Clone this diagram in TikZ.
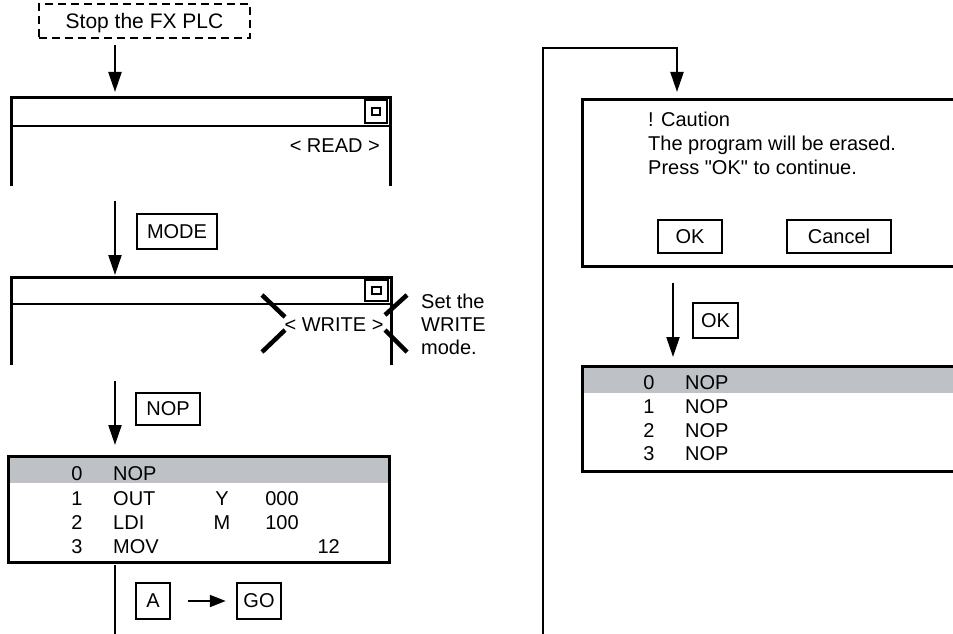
\documentclass[tikz,border=0pt]{standalone}
\usepackage{fontspec}
\setmainfont{Liberation Sans}[Ligatures=TeXOff]
\usetikzlibrary{arrows.meta}
\definecolor{band}{RGB}{190,194,199}
\begin{document}
\begin{tikzpicture}[x=1pt,y=-1pt,
  every node/.style={font=\fontsize{20}{23}\selectfont, inner sep=0pt},
  arr/.style={line width=2.2pt, -{Triangle[length=20pt,width=13pt]}},
  smallarr/.style={line width=2pt, -{Triangle[length=16pt,width=12pt]}},
  plain/.style={line width=2.2pt},
  frame/.style={line width=3pt},
  bar/.style={line width=2.5pt},
  keybox/.style={draw, line width=2.5pt, minimum height=35pt, text depth=0pt},
  dashbox/.style={draw, line width=2pt, dash pattern=on 8pt off 5pt, minimum width=211pt, minimum height=34pt, text depth=0pt, font=\fontsize{21}{24}\selectfont},
  txt/.style={anchor=base west},
  num/.style={anchor=base},
  cross/.style={line width=4.5pt},
  icono/.style={line width=2.5pt},
  iconi/.style={line width=2pt}
]
\useasboundingbox (0,0) rectangle (953,634);

% ---------- left column ----------
\node[dashbox] (stop) at (144.5,21) {Stop the FX PLC};
\coordinate (a1s) at (115,45);
\coordinate (a1e) at (115,92);
\draw[arr] (a1s) -- (a1e);

% screen 1
\draw[frame] (11,186) -- (11,97) -- (390,97) -- (390,186);
\draw[bar] (11,126) -- (390,126);
\draw[icono] (365,100) rectangle (387,123);
\draw[iconi] (372,108) rectangle (380,115);
\node[anchor=base east] (read) at (380,152) {< READ >};

% MODE
\coordinate (a2s) at (115,201);
\coordinate (a2e) at (115,275);
\draw[arr] (a2s) -- (a2e);
\node[keybox, minimum width=80pt] (mode) at (177,231.5) {MODE};

% screen 2
\draw[frame] (11,365) -- (11,277) -- (391,277) -- (391,365);
\draw[bar] (11,304) -- (391,304);
\draw[icono] (365,280) rectangle (388,301);
\draw[iconi] (372,287) rectangle (381,294);
\node[anchor=base] (write) at (334,331) {< WRITE >};
\draw[cross] (262,295) -- (285,317);
\draw[cross] (262,352) -- (285,330);
\draw[cross] (385,315) -- (407,295);
\draw[cross] (385,330) -- (407,352);
\node[txt] (set1) at (421,308) {Set the};
\node[txt] (set2) at (421,331) {WRITE};
\node[txt] (set3) at (421,354) {mode.};

% NOP
\coordinate (a3s) at (115,381);
\coordinate (a3e) at (115,445);
\draw[arr] (a3s) -- (a3e);
\node[keybox, minimum width=64pt, minimum height=32pt] (nop) at (168,409) {NOP};

% screen 3
\fill[band] (8,456) rectangle (389,483);
\draw[frame] (8,456) rectangle (389,562);
\node[num] (l0) at (77,480) {0};
\node[txt] (l0o) at (113,480) {NOP};
\node[num] (l1) at (77,505) {1};
\node[txt] (l1o) at (113,505) {OUT};
\node[num] (l1d) at (222,505) {Y};
\node[num] (l1v) at (282,505) {000};
\node[num] (l2) at (77,529) {2};
\node[txt] (l2o) at (113,529) {LDI};
\node[num] (l2d) at (222,529) {M};
\node[num] (l2v) at (282,529) {100};
\node[num] (l3) at (77,553) {3};
\node[txt] (l3o) at (113,553) {MOV};
\node[anchor=base east] (l3v) at (340,553) {12};

% A -> GO
\coordinate (a4s) at (115,565);
\coordinate (a4e) at (115,634);
\draw[plain] (a4s) -- (a4e);
\node[keybox, minimum width=34pt, minimum height=36pt] (keya) at (153,601) {A};
\node[keybox, minimum width=44pt, minimum height=36pt] (keygo) at (259,601) {GO};
\draw[smallarr] ([xshift=17pt]keya.east) -- ([xshift=-10pt]keygo.west);

% ---------- right column ----------
\coordinate (rb) at (543,634);
\coordinate (rc) at (677,48);
\coordinate (rt) at (677,92);
\draw[arr] (rb) |- (rc) -- (rt);

% caution dialog
\draw[frame] (953,99) -- (582,99) -- (582,266) -- (953,266);
\node[txt] (c1) at (648,126) {! Caution};
\node[txt] (c2) at (648,150) {The program will be erased.};
\node[txt] (c3) at (648,174) {Press "OK" to continue.};
\node[keybox, minimum width=64pt, minimum height=33pt] (okb) at (690,236.5) {OK};
\node[keybox, minimum width=104pt, minimum height=33pt] (cancel) at (839,236.5) {Cancel};

% OK
\coordinate (a5s) at (673,283);
\coordinate (a5e) at (673,357);
\draw[arr] (a5s) -- (a5e);
\node[keybox, minimum width=45pt, minimum height=35pt] (okk) at (715.5,320.5) {OK};

% result list
\fill[band] (582,366) rectangle (953,393);
\draw[frame] (953,366) -- (582,366) -- (582,471) -- (953,471);
\node[num] (r0) at (649,389) {0};
\node[txt] (r0o) at (685,389) {NOP};
\node[num] (r1) at (649,413) {1};
\node[txt] (r1o) at (685,413) {NOP};
\node[num] (r2) at (649,437) {2};
\node[txt] (r2o) at (685,437) {NOP};
\node[num] (r3) at (649,460) {3};
\node[txt] (r3o) at (685,460) {NOP};
\end{tikzpicture}
\end{document}
